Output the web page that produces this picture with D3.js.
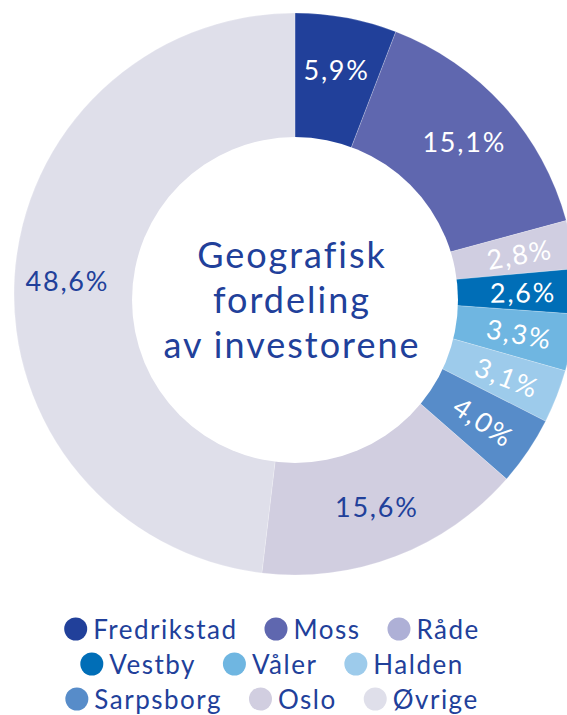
<!DOCTYPE html>
<meta charset="utf-8">
<head>
    <title>Geografisk fordeling av investorene</title>
    <script src="https://d3js.org/d3.v7.min.js"></script>
</head>

<style>
body { margin: 0; background: #ffffff; }
svg { display: block; font-family: Lato, "Open Sans", sans-serif; }
</style>

<body>

<svg></svg>

<script>

// data
let categories = ["Fredrikstad", "Moss", "Råde", "Vestby", "Våler", "Halden", "Sarpsborg", "Oslo", "Øvrige"];
let values = [5.9, 15.1, 2.8, 2.6, 3.3, 3.1, 4.0, 15.6, 48.6];
let labels = ["5,9%", "15,1%", "2,8%", "2,6%", "3,3%", "3,1%", "4,0%", "15,6%", "48,6%"];
let sliceColors = ["#21409a", "#5f67af", "#d0cee1", "#006eb7", "#6fb6e1", "#9dcbeb", "#578cc9", "#d1cee0", "#dfdfea"];
let legendColors = ["#21409a", "#5f67af", "#aeb0d6", "#006eb7", "#6fb6e1", "#9dcbeb", "#578cc9", "#d1cee0", "#dfdfea"];
let darkLabel = [false, false, false, false, false, false, false, true, true];
let legendRows = [[0, 1, 2], [3, 4, 5], [6, 7, 8]];
let title = ["Geografisk", "fordeling", "av investorene"];

let width = 567, height = 715;
let cx = 295, cy = 294;
let outerR = 281, innerR = 163;
let blue = "#21409a";

let svg = d3.select("svg")
    .attr("width", width)
    .attr("height", height);

let pie = d3.pie().sort(null).value(function(d) { return d; });
let arcs = pie(values);

let arc = d3.arc().innerRadius(innerR - 20).outerRadius(outerR);
// labels sit a little outside the ring's middle
let labelArc = d3.arc().innerRadius(228).outerRadius(228);

let g = svg.append("g")
    .attr("transform", "translate(" + cx + "," + cy + ")");

g.selectAll(".slice")
    .data(arcs)
    .enter()
    .append("path")
    .attr("class", "slice")
    .attr("d", arc)
    .attr("fill", function(d, i) { return sliceColors[i]; })
    .attr("stroke", "#ffffff")
    .attr("stroke-opacity", 0.35)
    .attr("stroke-width", 0.6);

// white hole (sits a little lower than the ring centre)
g.append("circle")
    .attr("cx", 0)
    .attr("cy", 6)
    .attr("r", innerR)
    .attr("fill", "#ffffff");

g.selectAll(".label")
    .data(arcs)
    .enter()
    .append("text")
    .attr("class", "label")
    .attr("text-anchor", "middle")
    .attr("dominant-baseline", "central")
    .attr("font-size", 27)
    .attr("letter-spacing", 1.8)
    .attr("fill", function(d, i) { return darkLabel[i] ? blue : "#ffffff"; })
    .attr("transform", function(d, i) {
        let c = labelArc.centroid(d);
        let mid = (d.startAngle + d.endAngle) / 2 * 180 / Math.PI;
        let rot = values[i] < 5 ? mid - 90 : 0;
        return "translate(" + c[0] + "," + c[1] + ") rotate(" + rot + ")";
    })
    .text(function(d, i) { return labels[i]; });

// centre title
svg.append("text")
    .attr("x", 292)
    .attr("y", 268)
    .attr("text-anchor", "middle")
    .attr("font-size", 36)
    .attr("letter-spacing", 2)
    .attr("fill", blue)
    .selectAll("tspan")
    .data(title)
    .enter()
    .append("tspan")
    .attr("x", 292)
    .attr("dy", function(d, i) { return i === 0 ? 0 : 45; })
    .text(function(d) { return d; });

// legend, each row centred
let legendCenter = 272;
let rowY = [629, 664, 699];
let dotR = 11.5, dotGap = 6, itemGap = 27;

legendRows.forEach(function(row, r) {
    let rowG = svg.append("g");
    let x = 0;
    row.forEach(function(k) {
        let item = rowG.append("g").attr("transform", "translate(" + x + "," + rowY[r] + ")");
        item.append("circle")
            .attr("cx", dotR)
            .attr("cy", 0)
            .attr("r", dotR)
            .attr("fill", legendColors[k]);
        let t = item.append("text")
            .attr("x", dotR * 2 + dotGap)
            .attr("y", 0)
            .attr("dominant-baseline", "central")
            .attr("font-size", 26)
            .attr("letter-spacing", 1.5)
            .attr("fill", blue)
            .text(categories[k]);
        x += dotR * 2 + dotGap + t.node().getComputedTextLength() + itemGap;
    });
    let rowW = x - itemGap;
    rowG.attr("transform", "translate(" + (legendCenter - rowW / 2) + ",0)");
});

</script>

</body>
